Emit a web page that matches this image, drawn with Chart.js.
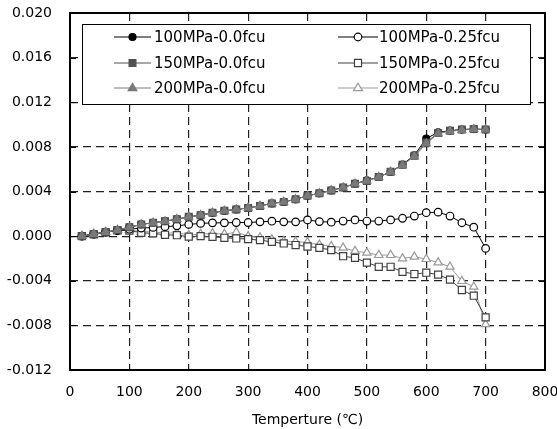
<!DOCTYPE html>
<html>
<head>
<meta charset="utf-8">
<script src="https://cdn.jsdelivr.net/npm/chart.js@4.4.0/dist/chart.umd.min.js"></script>
<style>
  html, body { margin: 0; padding: 0; background: #fff; }
  #wrap { width: 557px; height: 429px; }
</style>
</head>
<body>
<div id="wrap"><canvas id="chart" width="557" height="429"></canvas></div>
<script>
// temperature, deg C
const temps = [20, 40, 60, 80, 100, 120, 140, 160, 180, 200, 220, 240, 260, 280, 300, 320, 340,
  360, 380, 400, 420, 440, 460, 480, 500, 520, 540, 560, 580, 600, 620, 640, 660, 680, 700];

// strain values in units of 0.001
const s100_00 = [0, 0.18, 0.36, 0.54, 0.8, 1.05, 1.2, 1.34, 1.52, 1.73, 1.88, 2.09, 2.27, 2.39, 2.53, 2.71, 2.93,
  3.07, 3.3, 3.62, 3.84, 4.1, 4.36, 4.7, 5.0, 5.3, 5.76, 6.42, 7.25, 8.75, 9.3, 9.45, 9.55, 9.6, 9.55];
const s150_00 = [0, 0.18, 0.36, 0.54, 0.8, 1.05, 1.2, 1.34, 1.52, 1.73, 1.88, 2.09, 2.27, 2.39, 2.53, 2.71, 2.93,
  3.07, 3.3, 3.62, 3.84, 4.1, 4.36, 4.7, 4.95, 5.3, 5.76, 6.4, 7.2, 8.4, 9.25, 9.45, 9.55, 9.6, 9.55];
const s200_00 = [0, 0.18, 0.36, 0.54, 0.8, 1.05, 1.2, 1.34, 1.52, 1.73, 1.88, 2.09, 2.27, 2.39, 2.53, 2.71, 2.93,
  3.07, 3.3, 3.62, 3.84, 4.1, 4.36, 4.7, 4.95, 5.3, 5.76, 6.35, 7.15, 8.3, 9.2, 9.4, 9.5, 9.6, 9.55];
const s100_25 = [0, 0.18, 0.35, 0.5, 0.62, 0.72, 0.78, 0.85, 0.92, 1.05, 1.14, 1.19, 1.19, 1.22, 1.22, 1.28, 1.34,
  1.28, 1.28, 1.45, 1.3, 1.25, 1.35, 1.45, 1.35, 1.35, 1.45, 1.6, 1.8, 2.1, 2.15, 1.8, 1.2, 0.8, -1.1];
const s150_25 = [0, 0.15, 0.33, 0.52, 0.5, 0.3, 0.25, 0.12, 0.08, -0.05, 0, -0.06, -0.15, -0.21, -0.27, -0.36, -0.51,
  -0.66, -0.8, -0.93, -1.05, -1.25, -1.8, -1.95, -2.37, -2.75, -2.75, -3.2, -3.4, -3.28, -3.45, -3.9, -4.83, -5.34, -7.28];
const s200_25 = [0, 0.18, 0.35, 0.52, 0.55, 0.4, 0.4, 0.25, 0.3, 0.1, 0.18, 0.24, 0.18, 0.35, 0, -0.12, -0.3,
  -0.45, -0.51, -0.55, -0.78, -0.9, -1.04, -1.34, -1.49, -1.7, -1.7, -2.0, -1.85, -2.06, -2.36, -2.75, -4.03, -4.54, -7.9];

const xTicks = [0, 100, 200, 300, 400, 500, 600, 700, 800];
const yTicks = [-12, -8, -4, 0, 4, 8, 12, 16, 20];

const FONT = "'DejaVu Sans', Verdana, sans-serif";

function points(ys) {
  return temps.map((t, i) => ({ x: t, y: ys[i] }));
}

function series(label, ys, color, style, fill, radius, order) {
  return {
    label: label,
    data: points(ys),
    borderColor: color,
    backgroundColor: fill,
    pointBorderColor: color,
    pointBackgroundColor: fill,
    pointStyle: style,
    pointRadius: radius,
    pointBorderWidth: 1.2,
    borderWidth: 1,
    order: order,
  };
}

const datasets = [
  series("100MPa-0.0fcu", s100_00, "#000", "circle", "#000", 3.5, 3),
  series("150MPa-0.0fcu", s150_00, "#505050", "rect", "#505050", 4.8, 2),
  series("200MPa-0.0fcu", s200_00, "#7a7a7a", "triangle", "#7a7a7a", 4.6, 1),
  series("100MPa-0.25fcu", s100_25, "#000", "circle", "#fff", 3.8, 4),
  series("150MPa-0.25fcu", s150_25, "#404040", "rect", "#fff", 5, 5),
  series("200MPa-0.25fcu", s200_25, "#999", "triangle", "#fff", 4.8, 6),
];

function drawMarker(ctx, style, x, y, r, stroke, fill) {
  ctx.save();
  ctx.strokeStyle = stroke;
  ctx.fillStyle = fill;
  ctx.lineWidth = 1.2;
  ctx.beginPath();
  if (style === "circle") {
    ctx.arc(x, y, r, 0, Math.PI * 2);
  } else if (style === "rect") {
    const s = r * Math.SQRT1_2;
    ctx.rect(x - s, y - s, 2 * s, 2 * s);
  } else {
    ctx.moveTo(x, y - r);
    ctx.lineTo(x + r * 0.95, y + r * 0.55);
    ctx.lineTo(x - r * 0.95, y + r * 0.55);
    ctx.closePath();
  }
  ctx.fill();
  ctx.stroke();
  ctx.restore();
}

// legend box inside the plot, two columns, plus frame and inner ticks
const framePlugin = {
  id: "frame",
  afterDatasetsDraw(chart) {
    const ctx = chart.ctx;
    const a = chart.chartArea;
    const ys = chart.scales.y;

    // legend
    const bx = 82, by = 24, bw = 448, bh = 80;
    ctx.save();
    ctx.fillStyle = "#fff";
    ctx.fillRect(bx, by, bw, bh);
    ctx.strokeStyle = "#000";
    ctx.lineWidth = 1;
    ctx.strokeRect(bx + 0.5, by + 0.5, bw, bh);
    ctx.font = "15px " + FONT;
    ctx.textBaseline = "middle";
    const rows = [37, 63, 88];
    const cols = [{ x0: 114, x1: 151, tx: 154 }, { x0: 338, x1: 378, tx: 379 }];
    chart.data.datasets.forEach((ds, i) => {
      const c = cols[Math.floor(i / 3)];
      const y = rows[i % 3];
      ctx.strokeStyle = ds.borderColor;
      ctx.lineWidth = 1;
      ctx.beginPath();
      ctx.moveTo(c.x0, y);
      ctx.lineTo(c.x1, y);
      ctx.stroke();
      drawMarker(ctx, ds.pointStyle, (c.x0 + c.x1) / 2, y, ds.pointRadius, ds.pointBorderColor, ds.pointBackgroundColor);
      ctx.fillStyle = "#000";
      ctx.fillText(ds.label, c.tx, y + 1);
    });

    // frame
    ctx.strokeStyle = "#000";
    ctx.lineWidth = 2;
    ctx.strokeRect(a.left, a.top, a.right - a.left, a.bottom - a.top);

    // inner tick marks on left and right
    ctx.lineWidth = 1;
    yTicks.forEach((v) => {
      const y = Math.round(ys.getPixelForValue(v)) + 0.5;
      ctx.beginPath();
      ctx.moveTo(a.left, y);
      ctx.lineTo(a.left + 6, y);
      ctx.moveTo(a.right - 6, y);
      ctx.lineTo(a.right, y);
      ctx.stroke();
    });
    ctx.restore();
  },
};

new Chart(document.getElementById("chart"), {
  type: "line",
  data: { datasets: datasets },
  options: {
    responsive: false,
    animation: false,
    layout: { padding: { top: 13, right: 12, left: 0, bottom: 0 } },
    plugins: {
      legend: { display: false },
      tooltip: { enabled: false },
    },
    scales: {
      x: {
        type: "linear",
        min: 0,
        max: 800,
        afterBuildTicks: (s) => { s.ticks = xTicks.map((v) => ({ value: v })); },
        afterFit: (s) => {
          s.height = 59;
          s.paddingLeft = 0;
          s.paddingRight = 0;
        },
        grid: { color: "#222", lineWidth: 1.2, drawTicks: false },
        border: { display: false, dash: [8, 5] },
        ticks: { color: "#000", font: { family: FONT, size: 14 }, padding: 14, maxRotation: 0 },
        title: {
          display: true,
          text: "Temperture (℃)",
          color: "#000",
          font: { family: FONT, size: 14 },
          padding: { top: 0, bottom: 0 },
        },
      },
      y: {
        type: "linear",
        min: -12,
        max: 20,
        afterBuildTicks: (s) => { s.ticks = yTicks.map((v) => ({ value: v })); },
        afterFit: (s) => {
          s.width = 70;
          s.paddingTop = 0;
          s.paddingBottom = 0;
        },
        grid: { color: "#222", lineWidth: 1.2, drawTicks: false },
        border: { display: false, dash: [8, 5] },
        ticks: {
          color: "#000",
          font: { family: FONT, size: 14 },
          padding: 18,
          callback: (v) => (v / 1000).toFixed(3),
        },
      },
    },
  },
  plugins: [framePlugin],
});
</script>
</body>
</html>
